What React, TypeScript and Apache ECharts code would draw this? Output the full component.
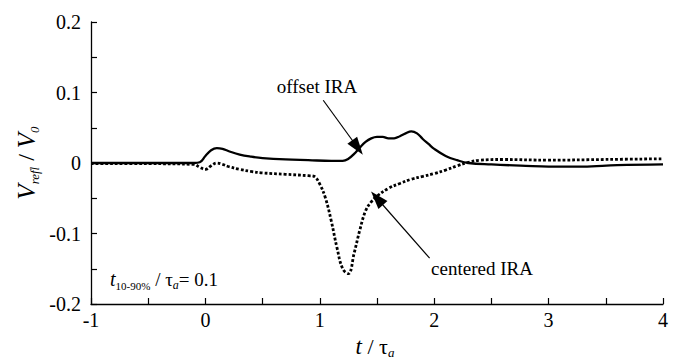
import React, { useEffect, useRef } from "react";
import * as echarts from "echarts";

const offsetT = [-1, -0.5, -0.1, -0.05, 0, 0.05, 0.1, 0.15, 0.2, 0.3, 0.4, 0.5, 0.7, 0.9, 1.1, 1.2, 1.25, 1.3, 1.35, 1.4, 1.45, 1.5, 1.55, 1.6, 1.65, 1.7, 1.75, 1.8, 1.85, 1.9, 1.95, 2.0, 2.1, 2.2, 2.3, 2.5, 2.8, 3.0, 3.3, 3.6, 4.0];
const offsetV = [0, 0, 0, 0.001, 0.01, 0.018, 0.021, 0.02, 0.017, 0.012, 0.009, 0.007, 0.005, 0.004, 0.003, 0.003, 0.006, 0.013, 0.022, 0.03, 0.035, 0.037, 0.037, 0.035, 0.035, 0.038, 0.042, 0.045, 0.042, 0.034, 0.027, 0.02, 0.01, 0.004, 0.0, -0.002, -0.004, -0.005, -0.005, -0.003, -0.002];

const centeredT = [-1, -0.5, -0.1, -0.05, 0, 0.05, 0.1, 0.15, 0.2, 0.3, 0.4, 0.5, 0.7, 0.9, 0.95, 1.0, 1.05, 1.1, 1.15, 1.2, 1.25, 1.3, 1.35, 1.4, 1.45, 1.5, 1.6, 1.7, 1.8, 1.9, 2.0, 2.1, 2.2, 2.3, 2.4, 2.6, 3.0, 3.5, 4.0];
const centeredV = [-0.001, -0.001, -0.002, -0.006, -0.009, -0.004, 0.0, -0.002, -0.005, -0.009, -0.012, -0.014, -0.016, -0.018, -0.019, -0.03, -0.05, -0.082, -0.12, -0.15, -0.157, -0.128, -0.095, -0.068, -0.055, -0.047, -0.036, -0.029, -0.023, -0.019, -0.015, -0.01, -0.004, 0.001, 0.004, 0.005, 0.004, 0.005, 0.006];

const offsetArrow = [[1.03, 0.089], [1.33, 0.022]];
const centeredArrow = [[1.96, -0.135], [1.5, -0.05]];

const FONT = "Liberation Serif";

export default function App() {
  const ref = useRef<HTMLDivElement>(null);
  useEffect(() => {
    if (!ref.current) return;
    const chart = echarts.init(ref.current, undefined, { renderer: "svg" });
    const zip = (a: number[], b: number[]) => a.map((x, i) => [x, b[i]]);
    const tickLabelStyle = { color: "#000", fontFamily: FONT, fontSize: 20 };
    const arrowLine = (pts: number[][]) => ({
      silent: true,
      animation: false,
      symbol: ["none", "triangle"],
      symbolSize: [12, 18],
      label: { show: false },
      emphasis: { disabled: true },
      lineStyle: { color: "#000", width: 1.2, type: "solid" },
      data: [[{ coord: pts[0] }, { coord: pts[1] }]],
    });
    chart.setOption({
      animation: false,
      backgroundColor: "#fff",
      grid: { left: 91, right: 16, top: 22, bottom: 56, containLabel: false },
      xAxis: {
        type: "value",
        min: -1,
        max: 4,
        interval: 0.5,
        axisLine: { show: true, onZero: false, lineStyle: { color: "#000", width: 1.3 } },
        axisTick: { show: true, inside: true, length: 6, lineStyle: { color: "#000", width: 1.2 } },
        splitLine: { show: false },
        axisLabel: {
          ...tickLabelStyle,
          margin: 6,
          formatter: (v: number) => (Math.abs(v - Math.round(v)) < 1e-6 ? String(Math.round(v)) : ""),
        },
      },
      yAxis: {
        type: "value",
        min: -0.2,
        max: 0.2,
        interval: 0.05,
        axisLine: { show: true, onZero: false, lineStyle: { color: "#000", width: 1.3 } },
        axisTick: { show: true, inside: true, length: 6, lineStyle: { color: "#000", width: 1.2 } },
        splitLine: { show: false },
        axisLabel: {
          ...tickLabelStyle,
          margin: 10,
          formatter: (v: number) => {
            const r = Math.round(v * 10);
            if (Math.abs(v * 10 - r) > 1e-6) return "";
            if (r === 0) return "0";
            return (r / 10).toFixed(1);
          },
        },
      },
      series: [
        {
          type: "line",
          data: zip(offsetT, offsetV),
          smooth: 0.4,
          showSymbol: false,
          lineStyle: { color: "#000", width: 2.3, type: "solid" },
          markLine: arrowLine(offsetArrow),
        },
        {
          type: "line",
          data: zip(centeredT, centeredV),
          smooth: 0.4,
          showSymbol: false,
          lineStyle: { color: "#000", width: 2.8, type: [2.8, 2] },
          markLine: arrowLine(centeredArrow),
        },
      ],
      graphic: [
        {
          type: "text",
          x: 26,
          y: 163,
          rotation: Math.PI / 2,
          style: {
            text: "{v|V}{s|refl}{n| / }{v|V}{s|0}",
            align: "center",
            verticalAlign: "middle",
            fill: "#000",
            fontFamily: FONT,
            fontSize: 24,
            rich: {
              v: { fontFamily: FONT, fontStyle: "italic", fontSize: 25, lineHeight: 30, verticalAlign: "middle" },
              s: { fontFamily: FONT, fontStyle: "italic", fontSize: 13, lineHeight: 12, verticalAlign: "bottom" },
              n: { fontFamily: FONT, fontSize: 24, lineHeight: 30, verticalAlign: "middle" },
            },
          },
        },
        {
          type: "text",
          x: 375,
          y: 346,
          style: {
            text: "{t|t}{n| / τ}{s|a}",
            align: "center",
            verticalAlign: "middle",
            fill: "#000",
            fontFamily: FONT,
            fontSize: 22,
            rich: {
              t: { fontFamily: FONT, fontStyle: "italic", fontSize: 23, lineHeight: 26, verticalAlign: "middle" },
              n: { fontFamily: FONT, fontSize: 22, lineHeight: 26, verticalAlign: "middle" },
              s: { fontFamily: FONT, fontStyle: "italic", fontSize: 13, lineHeight: 10, verticalAlign: "bottom" },
            },
          },
        },
        {
          type: "text",
          x: 110,
          y: 279,
          style: {
            text: "{t|t}{s|10-90%}{n| / τ}{si|a}{n|= 0.1}",
            align: "left",
            verticalAlign: "middle",
            fill: "#000",
            fontFamily: FONT,
            fontSize: 19,
            rich: {
              t: { fontFamily: FONT, fontStyle: "italic", fontSize: 20, lineHeight: 24, verticalAlign: "middle" },
              n: { fontFamily: FONT, fontSize: 19, lineHeight: 24, verticalAlign: "middle" },
              s: { fontFamily: FONT, fontSize: 11, lineHeight: 10, verticalAlign: "bottom" },
              si: { fontFamily: FONT, fontStyle: "italic", fontSize: 12, lineHeight: 10, verticalAlign: "bottom" },
            },
          },
        },
        {
          type: "text",
          x: 317,
          y: 86,
          style: { text: "offset IRA", align: "center", verticalAlign: "middle", fill: "#000", fontFamily: FONT, fontSize: 19 },
        },
        {
          type: "text",
          x: 482,
          y: 268,
          style: { text: "centered IRA", align: "center", verticalAlign: "middle", fill: "#000", fontFamily: FONT, fontSize: 19 },
        },
      ],
    });
    return () => chart.dispose();
  }, []);
  return <div ref={ref} style={{ width: 679, height: 360, marginLeft: -8, marginTop: -8 }} />;
}
